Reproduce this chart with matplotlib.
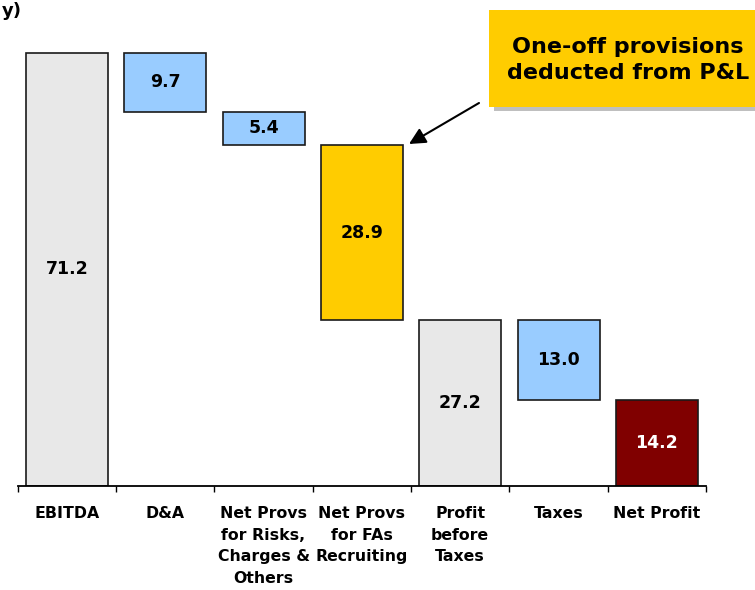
import matplotlib
matplotlib.use("Agg")
import matplotlib.pyplot as plt
from matplotlib.patches import Rectangle, FancyArrowPatch
from matplotlib import font_manager as fm

# ---- data ----
categories = ["EBITDA", "D&A", "Net Provs\nfor Risks,\nCharges &\nOthers",
              "Net Provs\nfor FAs\nRecruiting", "Profit\nbefore\nTaxes",
              "Taxes", "Net Profit"]
values = [71.2, 9.7, 5.4, 28.9, 27.2, 13.0, 14.2]
kinds = ["total", "minus", "minus", "minus", "total", "minus", "total"]
value_labels = ["71.2", "9.7", "5.4", "28.9", "27.2", "13.0", "14.2"]
bar_colors = ["#E8E8E8", "#99CCFF", "#99CCFF", "#FFCC00", "#E8E8E8", "#99CCFF", "#800000"]
label_colors = ["black", "black", "black", "black", "black", "black", "white"]
callout_text = "One-off provisions\ndeducted from P&L"
corner_text = "y)"

# font: prefer a condensed Verdana-like face (close to Tahoma)
family = "DejaVu Sans"
try:
    f = fm.findfont(fm.FontProperties(family="DejaVu Sans", stretch="condensed", weight="bold"),
                    fallback_to_default=False)
    if "Condensed" in f:
        family = fm.FontProperties(fname=f).get_name()
except Exception:
    pass
plt.rcParams["font.family"] = [family, "DejaVu Sans"]

W, H = 755, 590
fig = plt.figure(figsize=(W / 100, H / 100), dpi=100)

x_left, x_right, y_base, y_top = 17.7, 706.0, 486.0, 0.0
px_per_unit = 6.086
ax = fig.add_axes([x_left / W, (H - y_base) / H, (x_right - x_left) / W, (y_base - y_top) / H])

# waterfall geometry from the values
bottoms, heights = [], []
level = 0.0
for v, k in zip(values, kinds):
    if k == "total":
        bottoms.append(0.0)
        heights.append(v)
        level = v
    else:
        level -= v
        bottoms.append(level)
        heights.append(v)

xs = list(range(len(categories)))
ax.bar(xs, heights, bottom=bottoms, width=0.834, color=bar_colors,
       edgecolor="#1a1a1a", linewidth=1.2, zorder=2)
for x, b, h, t, c in zip(xs, bottoms, heights, value_labels, label_colors):
    ax.text(x, b + h / 2, t, ha="center", va="center", fontsize=12.5,
            fontweight="bold", color=c, zorder=3)

ax.set_xlim(-0.5, len(categories) - 0.5)
ax.set_ylim(0, (y_base - y_top) / px_per_unit)
for s in ["top", "right", "left"]:
    ax.spines[s].set_visible(False)
ax.spines["bottom"].set_linewidth(1.3)
ax.set_yticks([])
ax.set_xticks([i - 0.5 for i in range(len(categories) + 1)])
ax.set_xticklabels([])
ax.tick_params(axis="x", which="major", direction="out", length=4.5, width=1.0)

for x, lab in zip(xs, categories):
    ax.annotate(lab, xy=(x, 0), xycoords="data", xytext=(0, -20), textcoords="offset pixels",
                ha="center", va="top", fontsize=11.3, fontweight="bold",
                linespacing=1.56, annotation_clip=False)

# callout box with shadow (figure pixel coords)
tr = fig.dpi_scale_trans
def pxrect(x0, y0, x1, y1, **kw):
    return Rectangle((x0 / 100, (H - y1) / 100), (x1 - x0) / 100, (y1 - y0) / 100,
                     transform=tr, **kw)
fig.patches.append(pxrect(494, 14, 775, 111, facecolor="#BFBFBF", edgecolor="none", zorder=1))
fig.patches.append(pxrect(489, 10, 770, 107, facecolor="#FFCC00", edgecolor="none", zorder=2))
fig.text(628 / W, (H - 60) / H, callout_text, ha="center", va="center",
         fontsize=16, fontweight="bold", linespacing=1.42, zorder=3)

arrow = FancyArrowPatch((479 / 100, (H - 103) / 100), (409 / 100, (H - 144) / 100),
                        transform=tr, arrowstyle="-|>,head_length=0.9,head_width=0.45",
                        mutation_scale=11, color="black", linewidth=1.5, zorder=4,
                        shrinkA=0, shrinkB=0)
fig.patches.append(arrow)

fig.text(2 / W, (H - 2) / H, corner_text, ha="left", va="top",
         fontsize=13, fontweight="bold")

fig.savefig("out.png", dpi=100)
